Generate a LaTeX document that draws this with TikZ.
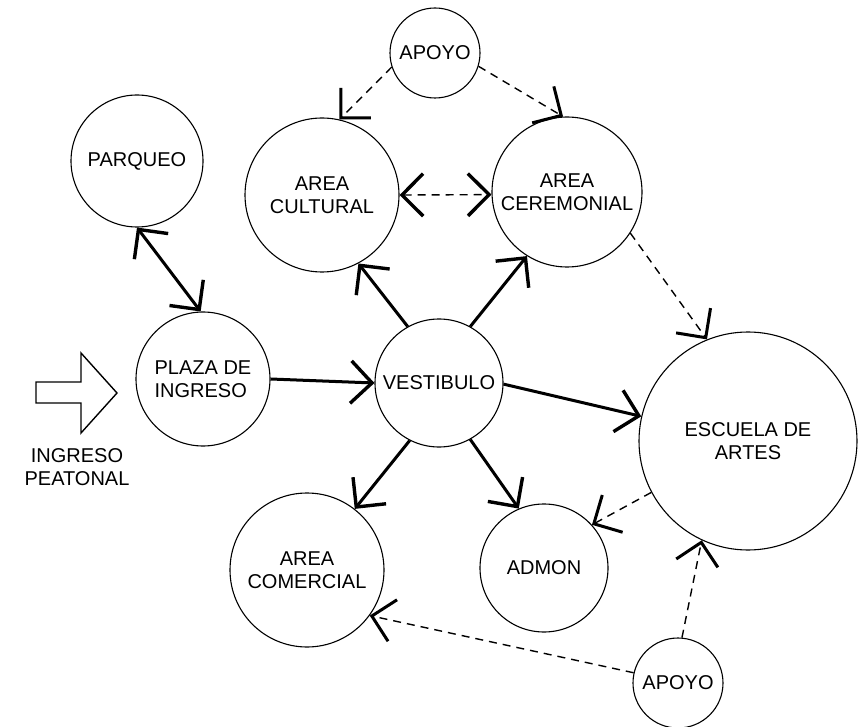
\documentclass[tikz,border=0pt]{standalone}
\usepackage{fontspec}
\setmainfont{Liberation Sans}
\usetikzlibrary{arrows.meta}

\begin{document}
\begin{tikzpicture}[x=1pt,y=-1pt,inner sep=0pt,font=\fontsize{20}{23}\selectfont]
\tikzstyle{main}=[circle, draw=black, line width=1.1pt, align=center]
\tikzstyle{connect}=[-{Straight Barb[angle=90:30pt,line width=3.4pt]}, line width=3pt]
\tikzstyle{twoway}=[{Straight Barb[angle=90:30pt,line width=3.4pt]}-{Straight Barb[angle=90:30pt,line width=3.4pt]}]
\tikzstyle{dashlink}=[-{Straight Barb[angle=90:30pt,line width=3pt]}, line width=1.4pt, dash pattern=on 8pt off 6pt]
\useasboundingbox (0,0) rectangle (865,727);
\node[main,minimum size=90pt] (apoyoa) at (435,53) {APOYO};
\node[main,minimum size=132pt] (parqueo) at (137,161) {PARQUEO};
\node[main,minimum size=154pt] (cultural) at (322,195) {AREA\\CULTURAL};
\node[main,minimum size=150pt] (ceremonial) at (567,192) {AREA\\CEREMONIAL};
\node[main,minimum size=134pt,align=left] (plaza) at (203,379) {PLAZA DE\\INGRESO};
\node[main,minimum size=128pt] (vestibulo) at (439,383) {VESTIBULO};
\node[main,minimum size=218pt] (escuela) at (748,441) {ESCUELA DE\\ARTES};
\node[main,minimum size=154pt] (comercial) at (307,570) {AREA\\COMERCIAL};
\node[main,minimum size=128pt] (admon) at (544,568) {ADMON};
\node[main,minimum size=90pt] (apoyob) at (678,683) {APOYO};
\node[align=center] (peatonal) at (77,467) {INGRESO\\PEATONAL};
% flecha de ingreso
\draw[line width=1.4pt] (36,382) -- (81,382) -- (81,353) -- (117,393) -- (81,433) -- (81,403) -- (36,403) -- cycle;
% relaciones directas
\draw[connect,twoway] (parqueo.270) -- (plaza.92);
\draw[connect] (plaza.0) -- (vestibulo.180);
\draw[connect] (vestibulo.119) -- (cultural.298);
\draw[connect] (vestibulo.61) -- (ceremonial.238);
\draw[connect] (vestibulo.-1) -- (escuela.167);
\draw[connect] (vestibulo.243) -- (comercial.52);
\draw[connect] (vestibulo.299) -- (admon.113);
% relaciones indirectas
\draw[dashlink] (apoyoa.198) -- (cultural.77);
\draw[dashlink] (apoyoa.343) -- (ceremonial.93);
\draw[dashlink,twoway] (cultural.0) -- (ceremonial.182);
\draw[dashlink] (ceremonial.327) -- (escuela.112);
\draw[dashlink] (escuela.208) -- (admon.42);
\draw[dashlink] (apoyob.85) -- (escuela.245);
\draw[dashlink] (apoyob.167) -- (comercial.324);
\end{tikzpicture}
\end{document}
